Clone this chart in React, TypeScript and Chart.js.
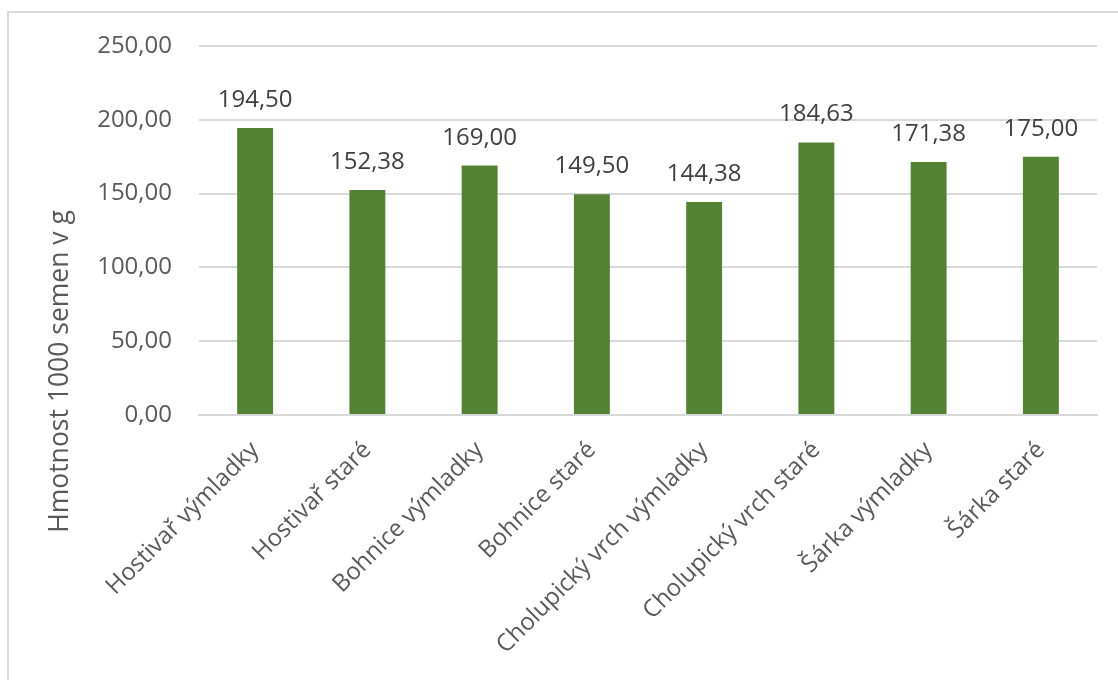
import React, { useEffect, useRef } from "react";
import { Chart, registerables } from "chart.js";

Chart.register(...registerables);

const categories = [
  "Hostivař výmladky",
  "Hostivař staré",
  "Bohnice výmladky",
  "Bohnice staré",
  "Cholupický vrch výmladky",
  "Cholupický vrch staré",
  "Šárka výmladky",
  "Šárka staré",
];
const values = [194.5, 152.38, 169.0, 149.5, 144.38, 184.63, 171.38, 175.0];
const yMin = 0;
const yMax = 250;
const yStep = 50;
const yTitle = "Hmotnost 1000 semen v g";

const FONT = "'Open Sans', 'Noto Sans', sans-serif";
const fmt = (v: number) => v.toFixed(2).replace(".", ",");

const dataLabelPlugin = {
  id: "dataLabels",
  afterDatasetsDraw(chart: any) {
    const ctx = chart.ctx;
    const meta = chart.getDatasetMeta(0);
    ctx.save();
    ctx.font = `24px ${FONT}`;
    ctx.fillStyle = "#404040";
    ctx.textAlign = "center";
    ctx.textBaseline = "alphabetic";
    meta.data.forEach((bar: any, i: number) => {
      const v = chart.data.datasets[0].data[i] as number;
      ctx.fillText(fmt(v), bar.x, bar.y - 21);
    });
    ctx.restore();
  },
};

// Excel-style axis title: centred on the whole chart height, not on the plot area
const axisTitlePlugin = {
  id: "axisTitle",
  afterDraw(chart: any) {
    const ctx = chart.ctx;
    ctx.save();
    ctx.font = `26.5px ${FONT}`;
    ctx.fillStyle = "#595959";
    ctx.textAlign = "center";
    ctx.textBaseline = "alphabetic";
    ctx.translate(68, 371.5);
    ctx.rotate(-Math.PI / 2);
    ctx.fillText(yTitle, 0, 0);
    ctx.restore();
  },
};

export default function App() {
  const ref = useRef<HTMLCanvasElement | null>(null);

  useEffect(() => {
    if (!ref.current) return;
    const chart = new Chart(ref.current, {
      type: "bar",
      data: {
        labels: categories,
        datasets: [
          {
            data: values,
            backgroundColor: "#548235",
            categoryPercentage: 1,
            barPercentage: 0.32,
          },
        ],
      },
      options: {
        responsive: false,
        animation: false,
        layout: { padding: { left: 41, right: 21, top: 46, bottom: 0 } },
        plugins: {
          legend: { display: false },
          tooltip: { enabled: false },
        },
        scales: {
          x: {
            grid: { display: false, drawTicks: false },
            border: { display: true, color: "#d9d9d9", width: 2 },
            ticks: {
              color: "#595959",
              font: { family: FONT, size: 24 },
              maxRotation: 45,
              minRotation: 45,
              padding: 21,
              autoSkip: false,
            },
            afterFit: (scale: any) => {
              scale.height = 265;
            },
          },
          y: {
            min: yMin,
            max: yMax,
            grid: { color: "#d9d9d9", lineWidth: 2, drawTicks: false },
            border: { display: false },
            ticks: {
              stepSize: yStep,
              color: "#595959",
              font: { family: FONT, size: 24 },
              padding: 27,
              callback: (v: any) => fmt(Number(v)),
            },
            afterFit: (scale: any) => {
              scale.width = 158;
            },
          },
        },
      },
      plugins: [dataLabelPlugin, axisTitlePlugin],
    });
    return () => chart.destroy();
  }, []);

  return (
    <div style={{ position: "absolute", left: 0, top: 0, width: 1118, height: 680, background: "#fff", overflow: "hidden" }}>
      <div
        style={{
          position: "absolute",
          left: 7,
          top: 11,
          width: 1111,
          height: 669,
          borderLeft: "2px solid #d9d9d9",
          borderTop: "2px solid #d9d9d9",
          boxSizing: "border-box",
        }}
      />
      <canvas ref={ref} width={1118} height={680} style={{ position: "absolute", left: 0, top: 0 }} />
    </div>
  );
}
